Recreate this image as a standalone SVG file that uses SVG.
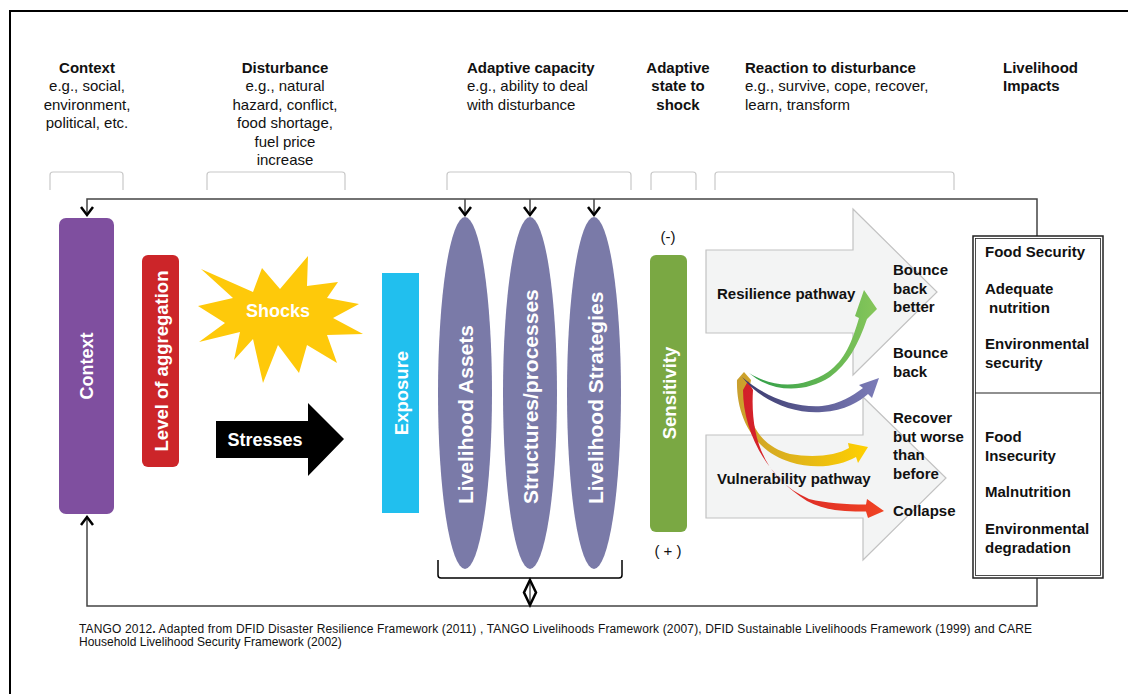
<svg xmlns="http://www.w3.org/2000/svg" width="1128" height="694" viewBox="0 0 1128 694">
<style>
.h{font-family:"Liberation Sans",Arial,sans-serif;font-size:15px;fill:#111}
.b{font-weight:bold}
.w{font-family:"Liberation Sans",Arial,sans-serif;font-weight:bold;fill:#fff}
.c{text-anchor:middle}
.br{fill:none;stroke:#c8c8c8;stroke-width:1.2}
.fb{fill:none;stroke:#444;stroke-width:1.5}
.chev{fill:none;stroke:#000;stroke-width:2.5}
.big{fill:#f3f4f4;stroke:#c2c2c2;stroke-width:1.2}
.lbl{font-family:"Liberation Sans",Arial,sans-serif;font-size:15px;font-weight:bold;fill:#111}
.ft{font-family:"Liberation Sans",Arial,sans-serif;font-size:12px;fill:#111}
.ell{fill:#7a7aa8}
</style>
<defs>
<linearGradient id="gG" x1="0" y1="0" x2="1" y2="0"><stop offset="0" stop-color="#2f9e48"/><stop offset="1" stop-color="#86c65a"/></linearGradient>
<linearGradient id="gB" x1="0" y1="0" x2="1" y2="0"><stop offset="0" stop-color="#3b3b6e"/><stop offset="1" stop-color="#7c7cb8"/></linearGradient>
<linearGradient id="gY" x1="0" y1="0" x2="1" y2="0"><stop offset="0" stop-color="#c99f2e"/><stop offset="1" stop-color="#ffd000"/></linearGradient>
<linearGradient id="gR" x1="0" y1="0" x2="1" y2="0"><stop offset="0" stop-color="#d21f2a"/><stop offset="1" stop-color="#f04323"/></linearGradient>
</defs>
<rect width="1128" height="694" fill="#fff"/>
<!-- frame -->
<path d="M10 694 V11 H1128" fill="none" stroke="#000" stroke-width="2"/>

<!-- headers -->
<g id="headers">
<text class="h c" x="87" y="73"><tspan class="b">Context</tspan><tspan x="87" dy="18.4">e.g., social,</tspan><tspan x="87" dy="18.4">environment,</tspan><tspan x="87" dy="18.4">political, etc.</tspan></text>
<text class="h c" x="285" y="73"><tspan class="b">Disturbance</tspan><tspan x="285" dy="18.4">e.g., natural</tspan><tspan x="285" dy="18.4">hazard, conflict,</tspan><tspan x="285" dy="18.4">food shortage,</tspan><tspan x="285" dy="18.4">fuel price</tspan><tspan x="285" dy="18.4">increase</tspan></text>
<text class="h" x="467" y="73"><tspan class="b">Adaptive capacity</tspan><tspan x="467" dy="18.4">e.g., ability to deal</tspan><tspan x="467" dy="18.4">with disturbance</tspan></text>
<text class="h b c" x="678" y="73">Adaptive<tspan x="678" dy="18.4">state to</tspan><tspan x="678" dy="18.4">shock</tspan></text>
<text class="h" x="745" y="73"><tspan class="b">Reaction to disturbance</tspan><tspan x="745" dy="18.4">e.g., survive, cope, recover,</tspan><tspan x="745" dy="18.4">learn, transform</tspan></text>
<text class="h b" x="1003" y="73">Livelihood<tspan x="1003" dy="18.4">Impacts</tspan></text>
</g>
<g id="brackets">
<path class="br" d="M50 190 V175 Q50 172 53 172 H120 Q123 172 123 175 V190"/>
<path class="br" d="M207 190 V175 Q207 172 210 172 H342 Q345 172 345 175 V190"/>
<path class="br" d="M447 190 V175 Q447 172 450 172 H628 Q631 172 631 175 V190"/>
<path class="br" d="M651 190 V175 Q651 172 654 172 H693 Q696 172 696 175 V190"/>
<path class="br" d="M715 190 V175 Q715 172 718 172 H951 Q954 172 954 175 V190"/>
</g>

<!-- connectors -->
<g id="connectors">
<path class="fb" d="M87 215 V199 H1037 V236"/>
<path class="fb" d="M465 199 V215 M530 199 V215 M594 199 V215"/>
<path class="fb" d="M1037 578 V606 H87 V516"/>
<path class="chev" d="M81 207 L87 215 L93 207"/>
<path class="chev" d="M459 207 L465 215 L471 207"/>
<path class="chev" d="M524 207 L530 215 L536 207"/>
<path class="chev" d="M588 207 L594 215 L600 207"/>
<path class="chev" d="M81 525 L87 517 L93 525"/>
<path d="M438 560 V575 Q438 578 441 578 H619 Q622 578 622 575 V560" fill="none" stroke="#000" stroke-width="1.5"/>
<path d="M530 580 L536 592.5 L530 605 L524 592.5 Z" fill="#fff" stroke="#000" stroke-width="2.5"/>
<path d="M530 583 V602" stroke="#000" stroke-width="1"/>
</g>

<!-- nodes -->
<g id="context">
<rect x="59" y="218" width="55" height="296" rx="7" fill="#7f4f9f"/>
<text class="w c" font-size="18" transform="translate(87 366) rotate(-90)" dominant-baseline="central">Context</text>
</g>
<g id="aggregation">
<rect x="142" y="255" width="37" height="212" rx="6" fill="#cc2529"/>
<text class="w c" font-size="18.5" transform="translate(161 361) rotate(-90)" dominant-baseline="central">Level of aggregation</text>
</g>
<g id="shocks">
<polygon fill="#fec90a" points="201,269 253,292 262,268 280,289 308,256 307,286 338,282 327,298 359,304 333,318 363,334 327,335 337,363 307,345 299,373 278,345 263,383 253,339 234,360 240,332 199,342 225,323 198,306 233,298"/>
<text class="w c" font-size="18" x="278" y="317">Shocks</text>
</g>
<g id="stresses">
<polygon fill="#000" points="216,421 308,421 308,403 344,439 308,476 308,458 216,458"/>
<text class="w c" font-size="18" x="265" y="446">Stresses</text>
</g>
<g id="exposure">
<rect x="382" y="273" width="37" height="240" fill="#21bfee"/>
<text class="w c" font-size="18.5" transform="translate(401 393) rotate(-90)" dominant-baseline="central">Exposure</text>
</g>
<g id="assets">
<ellipse class="ell" cx="465" cy="393" rx="27" ry="176"/>
<text class="w" font-size="21" transform="translate(465 504) rotate(-90)" dominant-baseline="central">Livelihood Assets</text>
</g>
<g id="structures">
<ellipse class="ell" cx="530" cy="393" rx="27" ry="176"/>
<text class="w" font-size="21" transform="translate(530 504) rotate(-90)" dominant-baseline="central">Structures/processes</text>
</g>
<g id="strategies">
<ellipse class="ell" cx="594" cy="393" rx="27" ry="176"/>
<text class="w" font-size="21" transform="translate(595 504) rotate(-90)" dominant-baseline="central">Livelihood Strategies</text>
</g>
<g id="sensitivity">
<rect x="650" y="255" width="37" height="277" rx="6" fill="#7aa843"/>
<text class="w c" font-size="18.5" transform="translate(669 393) rotate(-90)" dominant-baseline="central">Sensitivity</text>
<text class="h c" x="668" y="242">(-)</text>
<text class="h c" x="668" y="556">( + )</text>
</g>
<g id="resilience">
<path class="big" d="M706 250 H853 V209 L937 292 L853 375 V333 H706 Z"/>
<text class="lbl" x="717" y="299">Resilience pathway</text>
</g>
<g id="vulnerability">
<path class="big" d="M706 435 H863 V397 L946 478 L863 560 V518 H706 Z"/>
<text class="lbl" x="717" y="484">Vulnerability pathway</text>
</g>
<g id="outcomes">
<text class="lbl" x="893" y="275">Bounce<tspan x="893" dy="18.5">back</tspan><tspan x="893" dy="18.5">better</tspan></text>
<text class="lbl" x="893" y="358">Bounce<tspan x="893" dy="18.5">back</tspan></text>
<text class="lbl" x="893" y="423">Recover<tspan x="893" dy="18.5">but worse</tspan><tspan x="893" dy="18.5">than</tspan><tspan x="893" dy="18.5">before</tspan></text>
<text class="lbl" x="893" y="516">Collapse</text>
</g>
<g id="curves">
<path fill="url(#gY)" d="M744 372 L737 380 C736 415 752 450 790 462 C815 470 840 466 856 457 L858 463 L868 447 L848 443 L849 448 C836 456 812 458 790 454 C762 446 742 424 751 380 Z"/>
<path fill="url(#gR)" d="M748 381 L743 390 C743 430 765 475 807 501 C825 511 845 511.5 866 511.5 L868 518 L884 511 L867 499 L866 504.5 C845 504.5 826 503 809 499 C764 480 750 436 753 390 Z"/>
<path fill="url(#gB)" d="M742 377 C760 400 792 414 822 412 C845 411 860 401 868 394 L872 398 L879 378 L859 385 L863 388 C852 396 840 404 822 406 C795 408 765 397 742 377 Z"/>
<path fill="url(#gG)" d="M749 373 C772 393 805 393 830 377 C848 364 858 345 867 319 L877 309 L864 290 L855 316 L859 318 C852 342 845 360 828 372 C803 388 775 389 749 373 Z"/>
</g>
<g id="impacts">
<rect x="973" y="236" width="130" height="342" fill="#fff" stroke="#222" stroke-width="1.5"/>
<rect x="975.5" y="238.5" width="125" height="337" fill="none" stroke="#222" stroke-width="0.8"/>
<line x1="975" y1="393" x2="1101" y2="393" stroke="#222" stroke-width="1.2"/>
<text class="lbl" x="985" y="257">Food Security</text>
<text class="lbl" x="985" y="294">Adequate<tspan x="989" dy="18.5">nutrition</tspan></text>
<text class="lbl" x="985" y="349">Environmental<tspan x="985" dy="18.5">security</tspan></text>
<text class="lbl" x="985" y="442">Food<tspan x="985" dy="18.5">Insecurity</tspan></text>
<text class="lbl" x="985" y="497">Malnutrition</text>
<text class="lbl" x="985" y="534">Environmental<tspan x="985" dy="18.5">degradation</tspan></text>
</g>
<g id="footer">
<text class="ft" x="79" y="633" textLength="953" lengthAdjust="spacing">TANGO 2012<tspan font-weight="bold">.</tspan> Adapted from DFID Disaster Resilience Framework (2011) , TANGO Livelihoods Framework (2007), DFID Sustainable Livelihoods Framework (1999) and CARE</text>
<text class="ft" x="79" y="646">Household Livelihood Security Framework (2002)</text>
</g>
</svg>
